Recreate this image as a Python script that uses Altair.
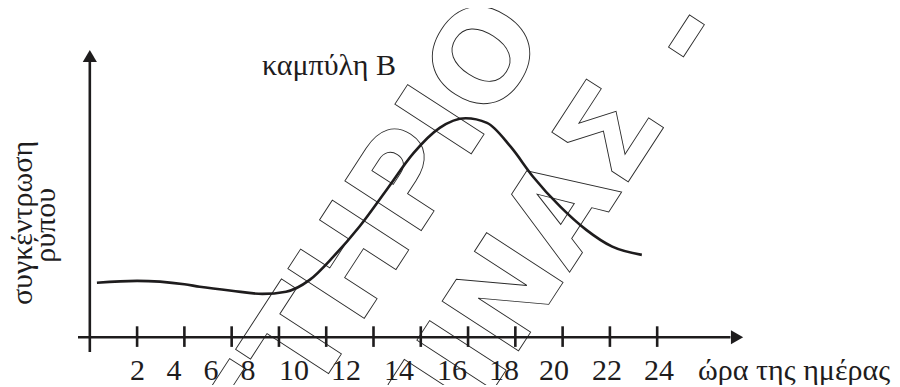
import altair as alt
import pandas as pd

# ---- data ----
curve_hours = [0.3, 2, 4, 4.65, 6, 7.3, 8.3, 9.3, 10.3, 11.4, 12.55, 13.7, 14.8,
               15.9, 16.8, 17.8, 18.75, 19.9, 21.0, 22.1, 23.35]
curve_conc = [2.73, 2.82, 2.65, 2.53, 2.33, 2.17, 2.28, 2.87, 4.03, 5.53, 7.37,
              9.22, 10.47, 10.95, 10.72, 9.53, 8.03, 6.53, 5.37, 4.53, 4.12]

tick_hours = [2, 4, 6, 8, 10, 12, 14, 16, 18, 20, 22, 24]
tick_labels = ["2", "4", "6", "8", "10", "12", "14", "16", "18", "20", "22", "24"]
# where the printed labels sit (they drift left of their ticks in the original)
label_hours = [2.02, 3.56, 5.13, 6.69, 8.64, 10.84, 13.08, 15.32, 17.52, 19.64, 21.88, 24.08]

x_title = "ώρα της ημέρας"
y_title_lines = ["συγκέντρωση", "ρύπου"]
curve_name = "καμπύλη Β"

watermark_text = ["ΦΡΟΝΤΙΣΤΗΡΙΟ", "ΜΙΝΑΣ", "-"]

# ---- geometry helpers (data units) ----
X_DOMAIN = [-0.5, -0.5 + 800 / 23.64]
Y_DOMAIN = [-1.635, 14.865]
INK = "#1e1c1d"
SERIF = "Liberation Serif"
FS = 30

xs = alt.Scale(domain=X_DOMAIN, nice=False, zero=False)
ys = alt.Scale(domain=Y_DOMAIN, nice=False, zero=False)


def X(f):
    return alt.X(f, type="quantitative", scale=xs, axis=None)


def Y(f):
    return alt.Y(f, type="quantitative", scale=ys, axis=None)


curve_df = pd.DataFrame({"h": curve_hours, "c": curve_conc})
tick_df = pd.DataFrame({"h": tick_hours, "lo": [-0.48] * len(tick_hours), "hi": [0.55] * len(tick_hours)})
label_df = pd.DataFrame({"h": label_hours, "t": tick_labels, "y": [-2.13] * len(tick_hours)})

# watermark (outlined letters), anchored at the end of each piece
wm_df = pd.DataFrame({
    "t": watermark_text,
    "h": [19.39, 24.48, 27.11],
    "y": [15.1, 10.87, 15.18],
})

watermark = alt.Chart(wm_df).mark_text(
    font="DejaVu Sans", fontWeight="bold", fontSize=125, angle=303,
    align="right", baseline="alphabetic", fillOpacity=0, stroke="#2a2a2a",
    strokeWidth=0.9,
).encode(x=X("h"), y=Y("y"), text="t:N")

x_axis = alt.Chart(pd.DataFrame({"a": [-0.5], "b": [27.1], "y": [0]})).mark_rule(
    color=INK, strokeWidth=2.6
).encode(x=X("a"), x2=alt.X2("b"), y=Y("y"))

y_axis = alt.Chart(pd.DataFrame({"x": [0], "a": [-0.74], "b": [13.8]})).mark_rule(
    color=INK, strokeWidth=2.6
).encode(x=X("x"), y=Y("a"), y2=alt.Y2("b"))

x_arrow = alt.Chart(pd.DataFrame({"h": [27.38], "y": [0]})).mark_point(
    shape="triangle-right", filled=True, size=200, color=INK, opacity=1
).encode(x=X("h"), y=Y("y"))

y_arrow = alt.Chart(pd.DataFrame({"h": [0], "y": [14.065]})).mark_point(
    shape="triangle-up", filled=True, size=200, color=INK, opacity=1
).encode(x=X("h"), y=Y("y"))

ticks = alt.Chart(tick_df).mark_rule(color=INK, strokeWidth=2.6).encode(
    x=X("h"), y=Y("lo"), y2=alt.Y2("hi")
)

labels = alt.Chart(label_df).mark_text(
    font=SERIF, fontSize=FS, fontWeight="normal", color=INK, align="center", baseline="alphabetic"
).encode(x=X("h"), y=Y("y"), text="t:N")

xtitle = alt.Chart(pd.DataFrame({"h": [25.73], "y": [-2.13], "t": [x_title]})).mark_text(
    font=SERIF, fontSize=FS, fontWeight="normal", color=INK, align="left", baseline="alphabetic"
).encode(x=X("h"), y=Y("y"), text="t:N")

ytitle = alt.Chart(pd.DataFrame({"h": [-2.445, -1.47], "y": [5.715, 5.6], "t": y_title_lines})).mark_text(
    font=SERIF, fontSize=FS, fontWeight="normal", color=INK, align="center", baseline="alphabetic", angle=270
).encode(x=X("h"), y=Y("y"), text="t:N")

cname = alt.Chart(pd.DataFrame({"h": [7.28], "y": [13.115], "t": [curve_name]})).mark_text(
    font=SERIF, fontSize=FS, fontWeight="normal", color=INK, align="left", baseline="alphabetic"
).encode(x=X("h"), y=Y("y"), text="t:N")

curve = alt.Chart(curve_df).mark_line(
    color=INK, strokeWidth=2.6, interpolate="monotone"
).encode(x=X("h"), y=Y("c"))

chart = alt.layer(
    watermark, x_axis, y_axis, x_arrow, y_arrow, ticks, labels, xtitle, ytitle, cname, curve
).properties(
    width=800, height=330,
    autosize=alt.AutoSizeParams(type="none"),
    padding={"left": 70, "top": 32, "right": 14, "bottom": 15},
).configure(background="white").configure_view(strokeWidth=0)

chart.save("out.html", embed_options={"renderer": "svg", "actions": False})
